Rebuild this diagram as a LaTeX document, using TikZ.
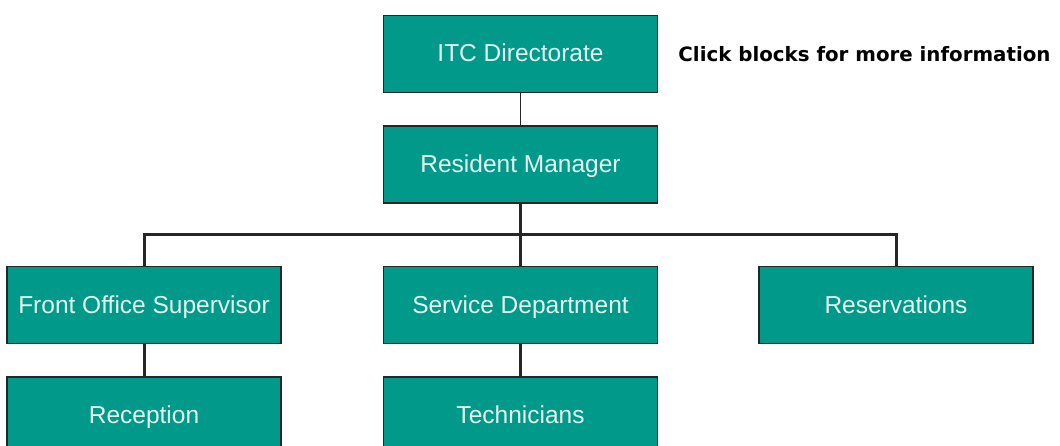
\documentclass[tikz,border=0pt]{standalone}
\usepackage{fontspec}
\setmainfont{Liberation Sans}
\newfontfamily\hintfont{DejaVu Sans}
\usepackage{xcolor}
\usetikzlibrary{positioning, calc}

\definecolor{boxteal}{RGB}{0,153,138}
\definecolor{boxtext}{RGB}{228,246,240}

\begin{document}
\begin{tikzpicture}[
    x=1pt, y=-1pt,
    unit/.style={draw=black!85, line width=1.5pt, fill=boxteal, text=boxtext,
                 minimum width=274pt, minimum height=77pt, inner sep=0pt,
                 text height=19pt, text depth=3pt,
                 font=\fontsize{24.5}{28}\selectfont},
    link/.style={draw=black!85, line width=3pt},
    thin link/.style={draw=black!85, line width=1.5pt}
  ]
  \useasboundingbox (0,0) rectangle (1060,446);
  \clip (0,0) rectangle (1060,446);

  \node[unit] (itc) at (520.5,54) {ITC Directorate};
  \node[unit, below=32pt of itc] (rm)  {Resident Manager};
  \node[unit, below=62pt of rm]  (sd)  {Service Department};
  \node[unit, left=101pt of sd]  (fos) {Front Office Supervisor};
  \node[unit, right=100pt of sd] (res) {Reservations};
  \node[unit, below=32pt of fos] (rec) {Reception};
  \node[unit, below=32pt of sd]  (tech) {Technicians};
  \node[right=20pt of itc, inner sep=0pt,
        font=\hintfont\bfseries\fontsize{19.8}{24}\selectfont] (hint) {Click blocks for more information};

  % tree lines
  \coordinate (bus) at ($(rm.south)!0.5!(sd.north)$);
  \draw[thin link] (itc) -- (rm);
  \draw[link] (rm) -- (sd);
  \draw[link] (bus) -| (fos);
  \draw[link] (bus) -| (res);
  \draw[link] (fos) -- (rec);
  \draw[link] (sd) -- (tech);
\end{tikzpicture}
\end{document}
